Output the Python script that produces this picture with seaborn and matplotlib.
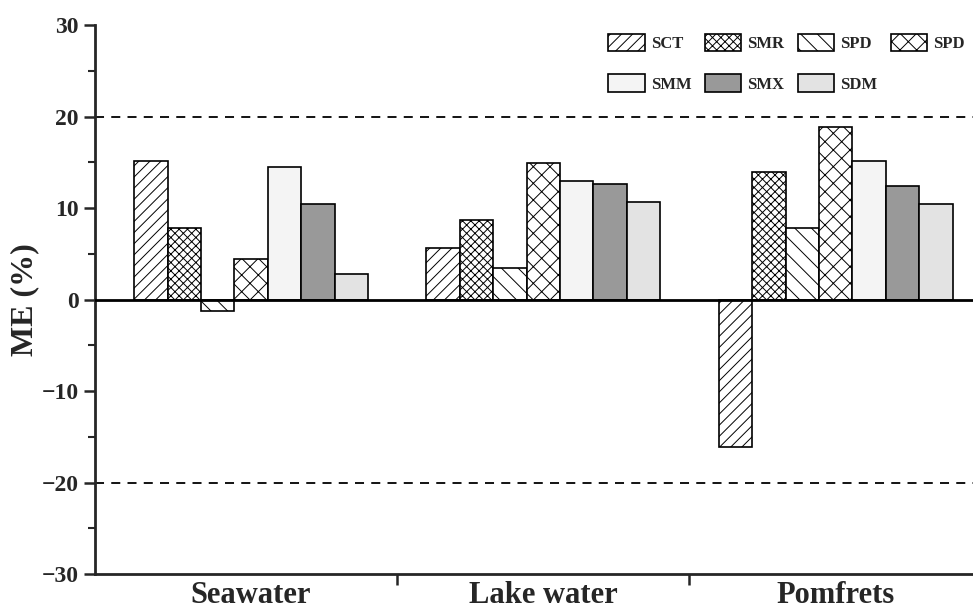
import pandas as pd
import matplotlib
matplotlib.use("Agg")
import matplotlib.pyplot as plt
import seaborn as sns

# data
samples = ["Seawater", "Lake water", "Pomfrets"]
methods = ["SCT", "SMR", "SPD", "SPD2", "SMM", "SMX", "SDM"]
legend_names = ["SCT", "SMR", "SPD", "SPD", "SMM", "SMX", "SDM"]
sct = [15.2, 5.6, -16.1]
smr = [7.8, 8.7, 13.9]
spd = [-1.2, 3.5, 7.8]
spd2 = [4.4, 14.9, 18.9]
smm = [14.5, 13.0, 15.1]
smx = [10.5, 12.6, 12.4]
sdm = [2.8, 10.7, 10.5]
yticks = [-30, -20, -10, 0, 10, 20, 30]

colors = ["white", "white", "white", "white", "#f4f4f4", "#999999", "#e3e3e3"]
hatches = ["///", "xxxx", "\\\\", "xx", "", "", ""]

rows = []
for m, vals in zip(methods, [sct, smr, spd, spd2, smm, smx, sdm]):
    for s, v in zip(samples, vals):
        rows.append({"sample": s, "method": m, "ME": v})
df = pd.DataFrame(rows)

sns.set_style("ticks")
plt.rcParams["font.family"] = ["Liberation Serif", "DejaVu Serif"]
plt.rcParams["font.weight"] = "bold"
plt.rcParams["hatch.linewidth"] = 0.7

fig = plt.figure(figsize=(9.73, 6.15), dpi=100)
ax = fig.add_axes([0.0976, 0.0667, 0.9024, 0.8923])

sns.barplot(data=df, x="sample", y="ME", hue="method", hue_order=methods,
            palette=colors, order=samples, width=0.8, ax=ax,
            edgecolor="black", linewidth=1.2, saturation=1, legend=False)

for cont, h in zip(ax.containers, hatches):
    for bar in cont:
        bar.set_hatch(h)
        bar.set_edgecolor("black")

ax.axhline(0, color="black", lw=2, zorder=5)
ax.axhline(20, color="black", lw=1.3, ls=(0, (5, 4)))
ax.axhline(-20, color="black", lw=1.3, ls=(0, (5, 4)))

ax.set_ylim(-30, 30)
ax.set_xlim(-0.534, 2.47)
ax.set_yticks(yticks)
ax.set_yticklabels(["\u221230", "\u221220", "\u221210", "0", "10", "20", "30"])
ax.set_yticks([-25, -15, -5, 5, 15, 25], minor=True)
ax.set_xticks([0.5, 1.5])
ax.set_xticklabels([])
ax.set_xticks([0, 1, 2], minor=True)
ax.set_xticklabels(samples, minor=True, fontsize=22, fontweight="bold")
ax.tick_params(axis="x", which="minor", length=0, pad=5)
ax.tick_params(axis="x", which="major", length=8, width=1.8, direction="out")
ax.tick_params(axis="y", which="major", length=8, width=1.8, direction="out",
               labelsize=17)
ax.tick_params(axis="y", which="minor", length=5, width=1.5, direction="out")
for t in ax.get_yticklabels():
    t.set_fontweight("bold")

ax.set_xlabel("")
ax.set_ylabel("ME (%)", fontsize=23, fontweight="bold", labelpad=2)

sns.despine(ax=ax, top=True, right=True)
ax.spines["left"].set_linewidth(2)
ax.spines["bottom"].set_linewidth(2)

# legend: 4 items on first row, 3 on second
handles = [cont.patches[0] for cont in ax.containers]
order = [0, 4, 1, 5, 2, 6, 3]
leg = ax.legend([handles[i] for i in order], [legend_names[i] for i in order],
                ncol=4, loc="upper right", bbox_to_anchor=(1.0, 1.0),
                frameon=False, prop={"weight": "bold", "size": 12},
                handlelength=2.2, handleheight=1.25, handletextpad=0.35,
                columnspacing=0.8, labelspacing=1.35, borderaxespad=0.1)

plt.savefig("out.png", dpi=100)
